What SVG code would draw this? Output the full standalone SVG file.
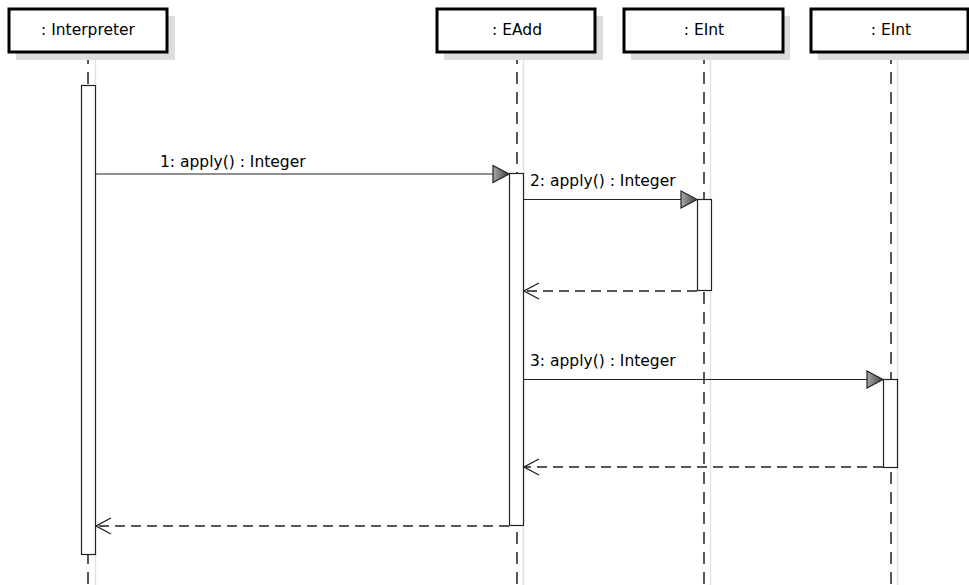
<svg xmlns="http://www.w3.org/2000/svg" width="969" height="585" viewBox="0 0 969 585">
<defs>
<linearGradient id="ag" x1="0" y1="0" x2="1" y2="0">
<stop offset="0" stop-color="#a8a8a8"/>
<stop offset="1" stop-color="#404040"/>
</linearGradient>
<style>
.box{fill:#fff;stroke:#000;stroke-width:3}
.shadow{fill:#dcdcdc}
.lbl{font-family:"DejaVu Sans",sans-serif;font-size:15.5px;fill:#000}
.life{stroke:#222;stroke-width:1.5;stroke-dasharray:12 8;fill:none}
.lshadow{stroke:#e2e2e2;stroke-width:1.5;fill:none}
.act{fill:#fff;stroke:#222;stroke-width:1.2}
.msg{stroke:#222;stroke-width:1.2;fill:none}
.ret{stroke:#222;stroke-width:1.4;stroke-dasharray:10 6;fill:none}
.head{fill:url(#ag);stroke:#222;stroke-width:1.2}
.open{fill:none;stroke:#222;stroke-width:1.4}
</style>
</defs>
<rect width="969" height="585" fill="#fff"/>
<g id="lifelines">
<line class="lshadow" x1="95.5" y1="60" x2="95.5" y2="585"/>
<line class="lshadow" x1="523.5" y1="60" x2="523.5" y2="585"/>
<line class="lshadow" x1="710.5" y1="60" x2="710.5" y2="585"/>
<line class="lshadow" x1="897.5" y1="60" x2="897.5" y2="585"/>
<line class="life" x1="88" y1="52" x2="88" y2="585"/>
<line class="life" x1="517" y1="52" x2="517" y2="585"/>
<line class="life" x1="704" y1="52" x2="704" y2="585"/>
<line class="life" x1="891" y1="52" x2="891" y2="585"/>
</g>
<g id="interpreter">
<rect class="shadow" x="16" y="16" width="159" height="44"/>
<rect class="box" x="9" y="9" width="158" height="43"/>
<text class="lbl" x="88" y="35" text-anchor="middle">: Interpreter</text>
<rect class="act" x="81.5" y="85.5" width="14" height="469"/>
</g>
<g id="eadd">
<rect class="shadow" x="444" y="16" width="159" height="44"/>
<rect class="box" x="437" y="9" width="158" height="43"/>
<text class="lbl" x="517" y="35" text-anchor="middle">: EAdd</text>
<rect class="act" x="509.5" y="173.5" width="14" height="352"/>
</g>
<g id="eint1">
<rect class="shadow" x="631" y="16" width="159" height="44"/>
<rect class="box" x="624" y="9" width="159" height="43"/>
<text class="lbl" x="704" y="35" text-anchor="middle">: EInt</text>
<rect class="act" x="697.5" y="199.5" width="14" height="91"/>
</g>
<g id="eint2">
<rect class="shadow" x="818" y="16" width="151" height="44"/>
<rect class="box" x="811" y="9" width="157" height="43"/>
<text class="lbl" x="891" y="35" text-anchor="middle">: EInt</text>
<rect class="act" x="883.5" y="379.5" width="14" height="88"/>
</g>
<g id="connectors">
<line class="msg" x1="95.5" y1="174" x2="493" y2="174"/>
<polygon class="head" points="493,165.5 509,174 493,182.5"/>
<text class="lbl" x="160" y="167">1: apply() : Integer</text>
<line class="msg" x1="523.5" y1="199.5" x2="681" y2="199.5"/>
<polygon class="head" points="681,191 697,199.5 681,208"/>
<text class="lbl" x="530" y="186">2: apply() : Integer</text>
<line class="ret" x1="697" y1="291" x2="524" y2="291"/>
<polyline class="open" points="539,283 524,291 539,299"/>
<line class="msg" x1="523.5" y1="379.5" x2="867" y2="379.5"/>
<polygon class="head" points="867,371 883,379.5 867,388"/>
<text class="lbl" x="530" y="366">3: apply() : Integer</text>
<line class="ret" x1="883" y1="467" x2="524" y2="467"/>
<polyline class="open" points="539,459 524,467 539,475"/>
<line class="ret" x1="509" y1="526" x2="96" y2="526"/>
<polyline class="open" points="111,518 96,526 111,534"/>
</g>
</svg>
